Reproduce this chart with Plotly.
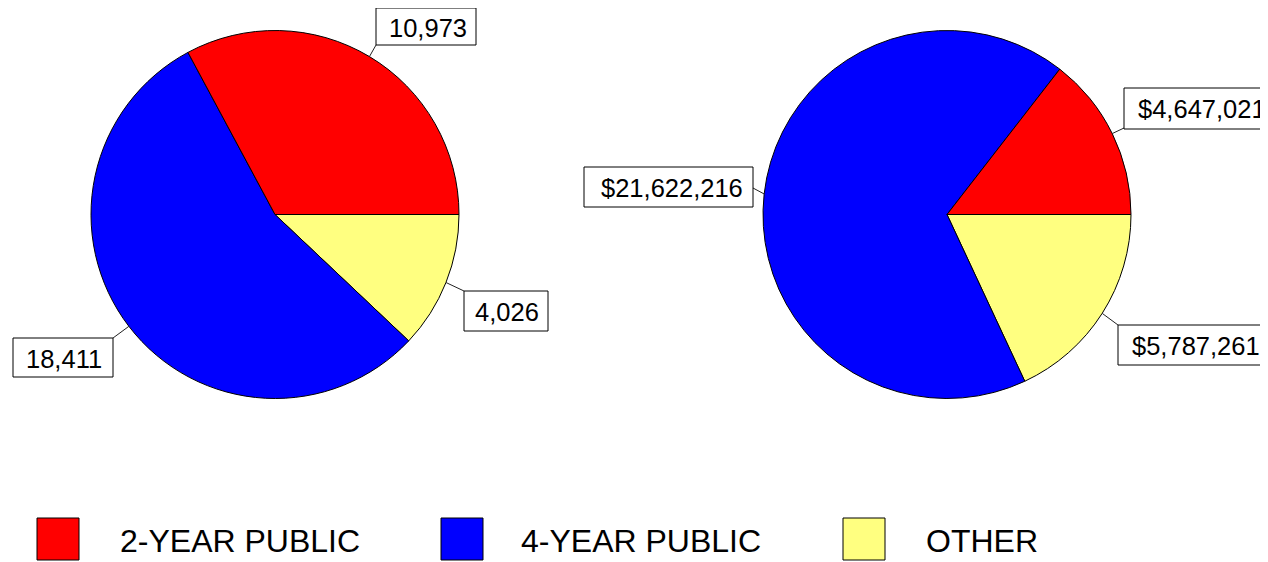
import math
import plotly.graph_objects as go

# ---------------- data ----------------
categories = ["2-YEAR PUBLIC", "4-YEAR PUBLIC", "OTHER"]
enrollment = [10973, 18411, 4026]
funding = [4647021, 21622216, 5787261]
enrollment_labels = ["10,973", "18,411", "4,026"]
funding_labels = ["$4,647,021", "$21,622,216", "$5,787,261"]
colors = ["#FF0000", "#0000FF", "#FFFF80"]

# ---------------- layout helpers (screen pixels) ----------------
OFF = 8  # page body margin: figure is drawn 8px in from the window corner
W, H = 1268 - OFF, 562 - OFF
FONT = "Arial, 'Liberation Sans', sans-serif"


def px(x):
    return (x - OFF) / W


def py(y):
    return 1 - (y - OFF) / H


R = 184
centers = [(275, 214.5), (947, 214.5)]

# label boxes: (left, top, width, height), leader-line joint on the box, text centre x
boxes = [
    [(376, 8, 100, 37, 376, 45, 428), (13, 338, 100, 39, 113, 338, 63.5),
     (464, 291, 84, 40, 464, 291, 506.5)],
    [(1124, 88, 156, 41, 1124, 128, 1202), (584, 167, 169, 40, 753, 188, 672),
     (1118, 325, 155, 40, 1118, 325, 1195.5)],
]

fig = go.Figure()
lines = []
rects = []
annotations = []

for k, (vals, labs) in enumerate([(enrollment, enrollment_labels), (funding, funding_labels)]):
    cx, cy = centers[k]
    # slices run counterclockwise from 3 o'clock: drawn clockwise from 3 o'clock in reverse order
    fig.add_trace(go.Pie(
        labels=categories[::-1],
        values=vals[::-1],
        sort=False,
        direction="clockwise",
        rotation=90,
        textinfo="none",
        marker=dict(colors=colors[::-1], line=dict(color="black", width=1)),
        domain=dict(x=[px(cx - R), px(cx + R)], y=[py(cy + R), py(cy - R)]),
        showlegend=False,
        name="",
    ))
    total = float(sum(vals))
    cum = 0.0
    for i, v in enumerate(vals):
        mid = 2 * math.pi * (cum + v / 2.0) / total
        cum += v
        ex, ey = cx + R * math.cos(mid), cy - R * math.sin(mid)
        bl, bt, bw, bh, jx, jy, tx = boxes[k][i]
        lines.append(dict(type="line", xref="paper", yref="paper",
                          x0=px(ex), y0=py(ey), x1=px(jx), y1=py(jy),
                          line=dict(color="#222222", width=1)))
        rects.append(dict(type="rect", xref="paper", yref="paper",
                          x0=px(bl), x1=px(bl + bw), y0=py(bt + bh), y1=py(bt),
                          fillcolor="white", line=dict(color="black", width=1)))
        annotations.append(dict(
            xref="paper", yref="paper",
            x=px(tx), y=py(bt + bh / 2 + 1),
            xanchor="center", yanchor="middle",
            text=labs[i], showarrow=False, borderpad=0,
            font=dict(family=FONT, size=25.5, color="black"),
        ))

# ---------------- custom legend ----------------
legend_sq = [37, 441, 843]
legend_txt = [119, 520, 925]
for i, name in enumerate(categories):
    rects.append(dict(type="rect", xref="paper", yref="paper",
                      x0=px(legend_sq[i]), x1=px(legend_sq[i] + 42),
                      y0=py(560), y1=py(518),
                      fillcolor=colors[i], line=dict(color="black", width=1)))
    annotations.append(dict(
        xref="paper", yref="paper",
        x=px(legend_txt[i]), y=py(540.5),
        xanchor="left", yanchor="middle",
        text=name, showarrow=False, borderpad=0,
        font=dict(family=FONT, size=32, color="black"),
    ))

fig.update_layout(
    width=W, height=H,
    margin=dict(l=0, r=0, t=0, b=0),
    paper_bgcolor="white",
    plot_bgcolor="white",
    shapes=lines + rects,
    annotations=annotations,
    font=dict(family=FONT),
)

fig.write_html("out.html")
